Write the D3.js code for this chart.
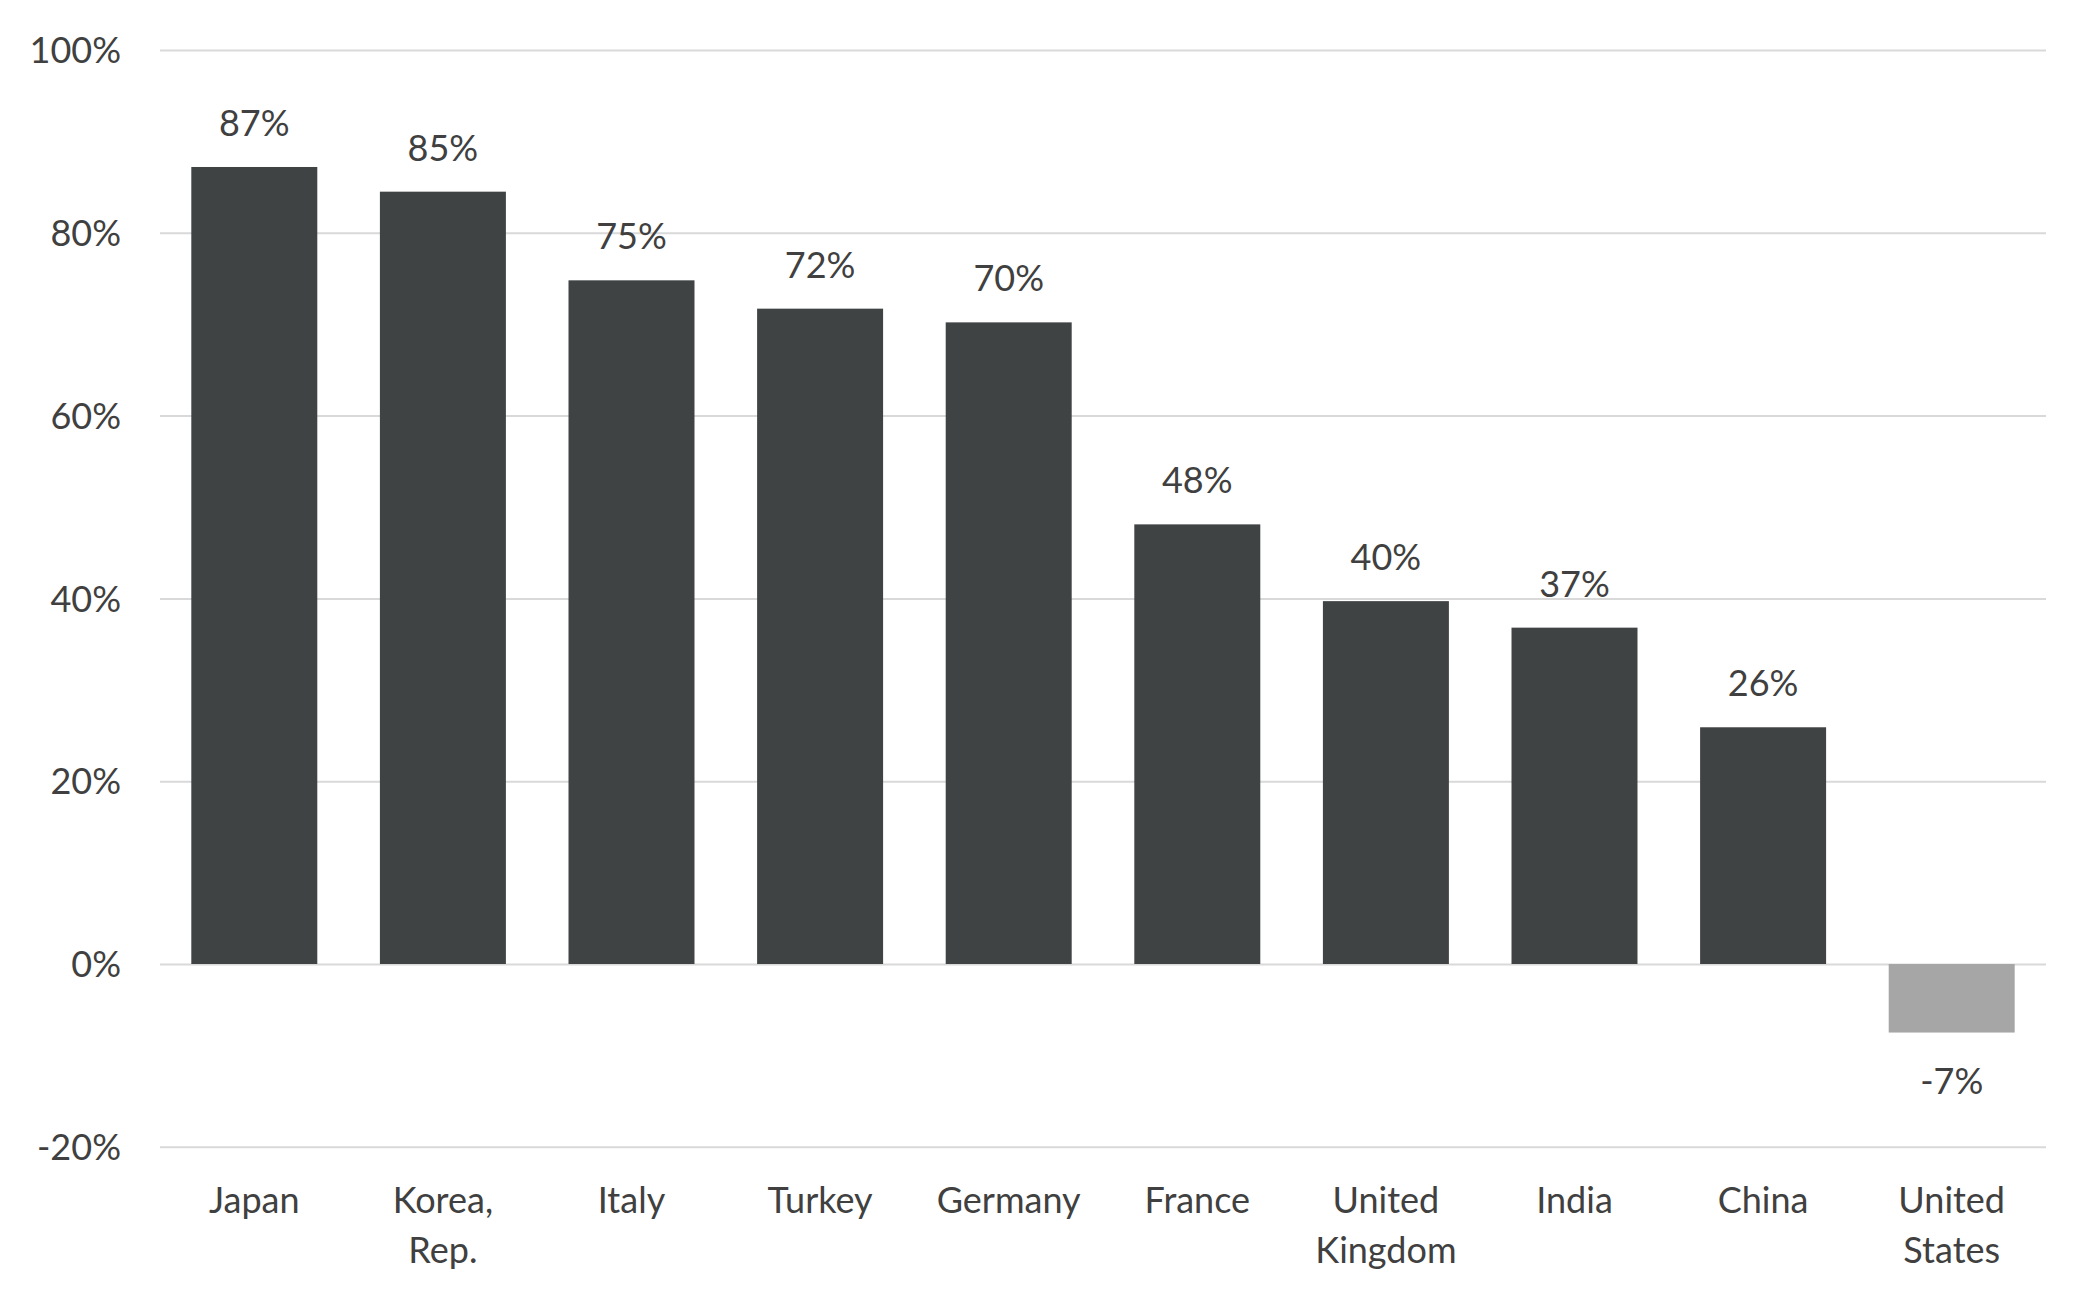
<!DOCTYPE html>
<html><head><meta charset="utf-8">
<script src="https://cdn.jsdelivr.net/npm/d3@7"></script>
<style>html,body{margin:0;padding:0;background:#fff;}</style>
</head><body>
<svg id="chart" width="2097" height="1304"></svg>
<script>
const categories = ["Japan","Korea, Rep.","Italy","Turkey","Germany","France","United Kingdom","India","China","United States"];
const categoryLines = [["Japan"],["Korea,","Rep."],["Italy"],["Turkey"],["Germany"],["France"],["United","Kingdom"],["India"],["China"],["United","States"]];
const values = [87.2, 84.5, 74.8, 71.7, 70.2, 48.1, 39.7, 36.8, 25.9, -7.5];
const valueLabels = ["87%","85%","75%","72%","70%","48%","40%","37%","26%","-7%"];
const yTicks = [-20, 0, 20, 40, 60, 80, 100];

(function() {
const svg = d3.select("#chart");
const font = "Lato, 'Open Sans', sans-serif";
const textColor = "#404040";
const fs = 36;
const plotLeft = 160, plotRight = 2046, plotTop = 50, zeroY = 964;

const y = d3.scaleLinear().domain([-20, 100]).range([zeroY + (zeroY - plotTop) / 5, plotTop]);
const x = d3.scaleBand().domain(categories).range([plotLeft, plotRight]).paddingInner(0.332).paddingOuter(0.166);

// grid
const yAxis = d3.axisLeft(y).tickValues(yTicks).tickSize(-(plotRight - plotLeft)).tickFormat(d => d + "%");
const gAxis = svg.append("g").attr("transform", `translate(${plotLeft},0)`).call(yAxis);
gAxis.select(".domain").remove();
gAxis.selectAll(".tick line").attr("stroke", "#d9d9d9").attr("stroke-width", 2);
gAxis.selectAll(".tick text").attr("x", -39).attr("dy", "0.35em")
  .attr("font-family", font).attr("font-size", fs).attr("fill", textColor);

// bars
svg.append("g").selectAll("rect").data(values).join("rect")
  .attr("x", (d, i) => x(categories[i]))
  .attr("width", x.bandwidth())
  .attr("y", d => y(Math.max(0, d)))
  .attr("height", d => Math.abs(y(d) - y(0)))
  .attr("fill", d => d < 0 ? "#a6a6a6" : "#3f4344");

// value labels
svg.append("g").selectAll("text").data(values).join("text")
  .attr("x", (d, i) => x(categories[i]) + x.bandwidth() / 2)
  .attr("y", d => d >= 0 ? y(d) - 31 : y(d) + 61)
  .attr("text-anchor", "middle")
  .attr("font-family", font).attr("font-size", fs).attr("fill", textColor)
  .text((d, i) => valueLabels[i]);

// category labels
const xAxis = d3.axisBottom(x).tickSize(0).tickFormat(() => "");
const gx = svg.append("g").attr("transform", `translate(0,${y(-20)})`).call(xAxis);
gx.select(".domain").remove();
gx.selectAll(".tick").each(function(d, i) {
  const t = d3.select(this).append("text")
    .attr("text-anchor", "middle")
    .attr("font-family", font).attr("font-size", fs).attr("fill", textColor);
  categoryLines[i].forEach((line, j) => {
    t.append("tspan").attr("x", 0).attr("y", 66 + j * 50).text(line);
  });
});
})();
</script>
</body></html>
